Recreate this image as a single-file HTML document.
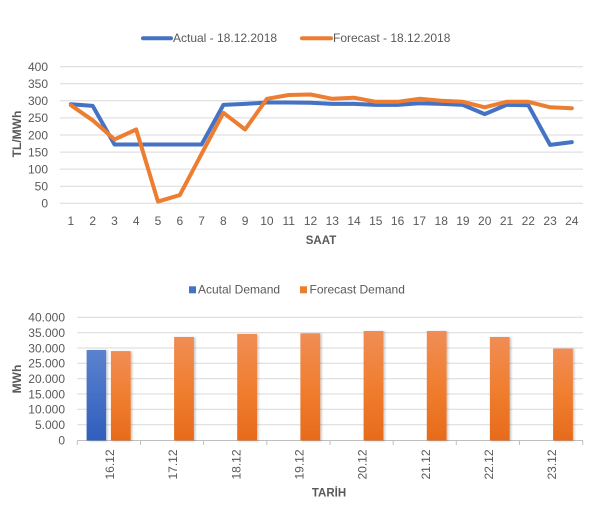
<!DOCTYPE html>
<html><head><meta charset="utf-8"><style>
html,body{margin:0;padding:0;background:#fff;}
svg{display:block;font-family:"Liberation Sans",Arial,sans-serif;}
</style></head><body>
<svg width="602" height="511" viewBox="0 0 602 511" xmlns="http://www.w3.org/2000/svg">
<defs>
<linearGradient id="og" x1="0" y1="0" x2="0" y2="1">
<stop offset="0" stop-color="#F08D55"/><stop offset="0.5" stop-color="#F07E30"/><stop offset="1" stop-color="#E66B1B"/>
</linearGradient>
<linearGradient id="bg" x1="0" y1="0" x2="0" y2="1">
<stop offset="0" stop-color="#5B82CE"/><stop offset="1" stop-color="#2F5EBD"/>
</linearGradient>
<filter id="sh" x="-20%" y="-5%" width="150%" height="115%">
<feDropShadow dx="1.5" dy="0.5" stdDeviation="1" flood-color="#000" flood-opacity="0.22"/>
</filter>
</defs>

<!-- TOP CHART -->
<g stroke="#D9D9D9" stroke-width="1">
<line x1="60" x2="583" y1="66.7" y2="66.7"/>
<line x1="60" x2="583" y1="83.7" y2="83.7"/>
<line x1="60" x2="583" y1="100.8" y2="100.8"/>
<line x1="60" x2="583" y1="117.9" y2="117.9"/>
<line x1="60" x2="583" y1="135.0" y2="135.0"/>
<line x1="60" x2="583" y1="152.1" y2="152.1"/>
<line x1="60" x2="583" y1="169.1" y2="169.1"/>
<line x1="60" x2="583" y1="186.2" y2="186.2"/>
<line x1="60" x2="583" y1="203.3" y2="203.3"/>
</g>
<g fill="#595959" font-size="12" text-anchor="end">
<text x="48" y="71">400</text>
<text x="48" y="88">350</text>
<text x="48" y="105">300</text>
<text x="48" y="122">250</text>
<text x="48" y="139.3">200</text>
<text x="48" y="156.4">150</text>
<text x="48" y="173.4">100</text>
<text x="48" y="190.5">50</text>
<text x="48" y="207.6">0</text>
</g>
<g fill="#595959" font-size="12" text-anchor="middle">
<text x="70.9" y="225">1</text><text x="92.7" y="225">2</text><text x="114.5" y="225">3</text><text x="136.2" y="225">4</text>
<text x="158.0" y="225">5</text><text x="179.8" y="225">6</text><text x="201.6" y="225">7</text><text x="223.4" y="225">8</text>
<text x="245.1" y="225">9</text><text x="266.9" y="225">10</text><text x="288.7" y="225">11</text><text x="310.5" y="225">12</text>
<text x="332.3" y="225">13</text><text x="354.0" y="225">14</text><text x="375.8" y="225">15</text><text x="397.6" y="225">16</text>
<text x="419.4" y="225">17</text><text x="441.2" y="225">18</text><text x="462.9" y="225">19</text><text x="484.7" y="225">20</text>
<text x="506.5" y="225">21</text><text x="528.3" y="225">22</text><text x="550.1" y="225">23</text><text x="571.8" y="225">24</text>
</g>
<text x="321" y="244" fill="#595959" font-size="11.5" font-weight="bold" text-anchor="middle">SAAT</text>
<text transform="translate(21,134) rotate(-90)" fill="#595959" font-size="12" font-weight="bold" text-anchor="middle">TL/MWh</text>

<polyline fill="none" stroke="#4472C4" stroke-width="4" stroke-linejoin="round" stroke-linecap="round"
points="70.9,104.2 92.7,105.9 114.5,144.5 136.2,144.5 158.0,144.5 179.8,144.5 201.6,144.5 223.4,104.9 245.1,103.9 266.9,102.5 288.7,102.5 310.5,102.8 332.3,103.9 354.0,103.9 375.8,104.9 397.6,104.9 419.4,103.2 441.2,103.9 462.9,104.9 484.7,114.1 506.5,104.9 528.3,105.2 550.1,144.9 571.8,142.1"/>
<polyline fill="none" stroke="#ED7D31" stroke-width="4" stroke-linejoin="round" stroke-linecap="round"
points="70.9,105.2 92.7,120.3 114.5,139.4 136.2,129.5 158.0,201.6 179.8,195.1 201.6,153.8 223.4,112.8 245.1,129.5 266.9,98.8 288.7,95.0 310.5,94.5 332.3,98.8 354.0,97.7 375.8,101.8 397.6,101.8 419.4,98.8 441.2,100.8 462.9,101.8 484.7,107.3 506.5,101.8 528.3,101.8 550.1,107.3 571.8,108.3"/>

<!-- top legend -->
<line x1="143" x2="171" y1="38.3" y2="38.3" stroke="#4472C4" stroke-width="4" stroke-linecap="round"/>
<text x="173" y="42" fill="#595959" font-size="12">Actual - 18.12.2018</text>
<line x1="302" x2="331" y1="38.3" y2="38.3" stroke="#ED7D31" stroke-width="4" stroke-linecap="round"/>
<text x="333" y="42" fill="#595959" font-size="12">Forecast - 18.12.2018</text>

<!-- BOTTOM CHART -->
<g stroke="#D9D9D9" stroke-width="1">
<line x1="77.3" x2="583" y1="317.3" y2="317.3"/>
<line x1="77.3" x2="583" y1="332.7" y2="332.7"/>
<line x1="77.3" x2="583" y1="348.0" y2="348.0"/>
<line x1="77.3" x2="583" y1="363.3" y2="363.3"/>
<line x1="77.3" x2="583" y1="378.7" y2="378.7"/>
<line x1="77.3" x2="583" y1="394.0" y2="394.0"/>
<line x1="77.3" x2="583" y1="409.3" y2="409.3"/>
<line x1="77.3" x2="583" y1="424.7" y2="424.7"/>
</g>
<g stroke="#BFBFBF" stroke-width="1">
<line x1="77.3" x2="583" y1="440.5" y2="440.5"/>
<line x1="77.3" x2="77.3" y1="440.5" y2="445"/>
<line x1="140.5" x2="140.5" y1="440.5" y2="445"/>
<line x1="203.6" x2="203.6" y1="440.5" y2="445"/>
<line x1="266.8" x2="266.8" y1="440.5" y2="445"/>
<line x1="330.0" x2="330.0" y1="440.5" y2="445"/>
<line x1="393.2" x2="393.2" y1="440.5" y2="445"/>
<line x1="456.3" x2="456.3" y1="440.5" y2="445"/>
<line x1="519.5" x2="519.5" y1="440.5" y2="445"/>
<line x1="582.7" x2="582.7" y1="440.5" y2="445"/>
</g>
<g fill="#595959" font-size="12" text-anchor="end">
<text x="65" y="321.6">40.000</text>
<text x="65" y="337">35.000</text>
<text x="65" y="352.3">30.000</text>
<text x="65" y="367.6">25.000</text>
<text x="65" y="383">20.000</text>
<text x="65" y="398.3">15.000</text>
<text x="65" y="413.6">10.000</text>
<text x="65" y="429">5.000</text>
<text x="65" y="444.3">0</text>
</g>

<g filter="url(#sh)">
<rect x="86.6" y="350" width="19.5" height="90.5" fill="url(#bg)"/>
<rect x="110.9" y="351.1" width="19.8" height="89.4" fill="url(#og)"/>
<rect x="174.1" y="337" width="19.8" height="103.5" fill="url(#og)"/>
<rect x="237.2" y="334" width="19.8" height="106.5" fill="url(#og)"/>
<rect x="300.4" y="333.3" width="19.8" height="107.2" fill="url(#og)"/>
<rect x="363.6" y="331" width="19.8" height="109.5" fill="url(#og)"/>
<rect x="426.8" y="331" width="19.8" height="109.5" fill="url(#og)"/>
<rect x="489.9" y="337" width="19.8" height="103.5" fill="url(#og)"/>
<rect x="553.1" y="348.6" width="19.8" height="91.9" fill="url(#og)"/>
</g>

<g fill="#595959" font-size="12" text-anchor="end">
<text transform="translate(114,449.5) rotate(-90)">16.12</text>
<text transform="translate(177.2,449.5) rotate(-90)">17.12</text>
<text transform="translate(240.3,449.5) rotate(-90)">18.12</text>
<text transform="translate(303.5,449.5) rotate(-90)">19.12</text>
<text transform="translate(366.7,449.5) rotate(-90)">20.12</text>
<text transform="translate(429.9,449.5) rotate(-90)">21.12</text>
<text transform="translate(493.0,449.5) rotate(-90)">22.12</text>
<text transform="translate(556.2,449.5) rotate(-90)">23.12</text>
</g>
<text x="329" y="496.5" fill="#595959" font-size="11.5" font-weight="bold" text-anchor="middle">TARİH</text>
<text transform="translate(21,379) rotate(-90)" fill="#595959" font-size="12" font-weight="bold" text-anchor="middle">MWh</text>

<!-- bottom legend -->
<rect x="189" y="286.3" width="7" height="7" fill="#4472C4"/>
<text x="198" y="293.3" fill="#595959" font-size="12">Acutal Demand</text>
<rect x="300" y="286.3" width="7" height="7" fill="#ED7D31"/>
<text x="309.5" y="293.3" fill="#595959" font-size="12">Forecast Demand</text>
</svg>
</body></html>
